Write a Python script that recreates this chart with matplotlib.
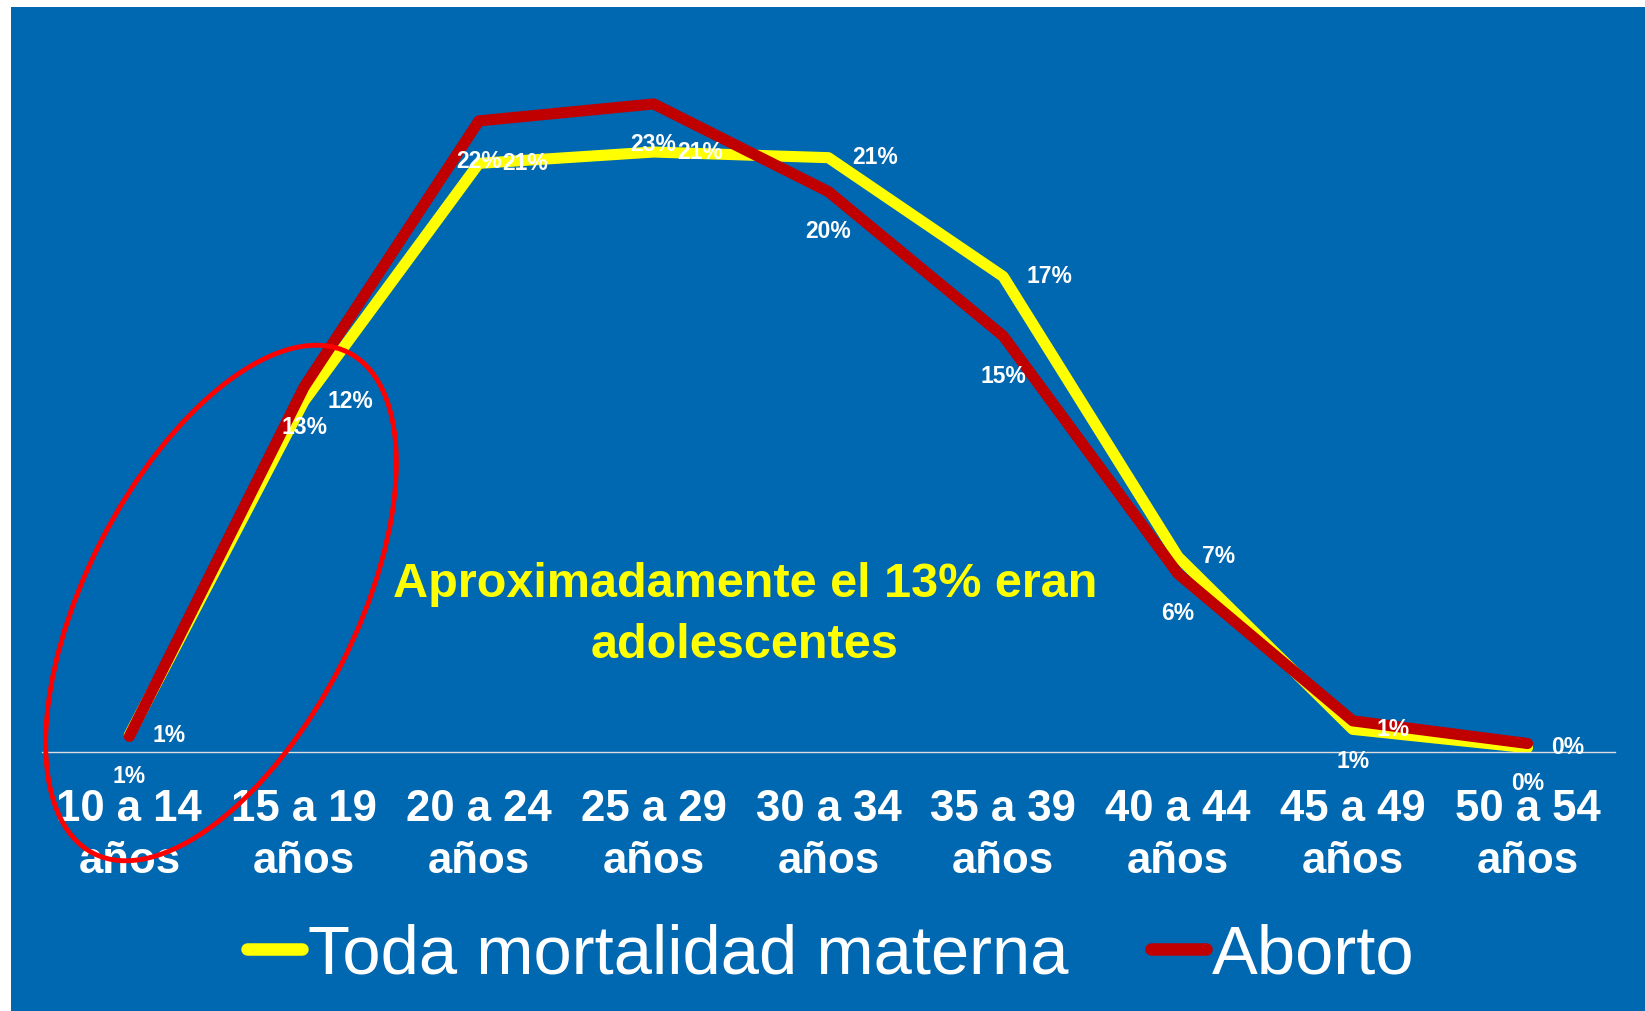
import matplotlib
matplotlib.use('Agg')
import matplotlib.pyplot as plt
from matplotlib.patches import Ellipse, Rectangle
from matplotlib.lines import Line2D

# Datos (porcentaje de muertes por grupo de edad)
grupos = ['10 a 14\naños', '15 a 19\naños', '20 a 24\naños', '25 a 29\naños', '30 a 34\naños',
          '35 a 39\naños', '40 a 44\naños', '45 a 49\naños', '50 a 54\naños']
toda_mortalidad = [0.6, 12.4, 20.8, 21.2, 21.0, 16.8, 6.9, 0.8, 0.15]
aborto = [0.55, 12.9, 22.3, 22.9, 19.8, 14.7, 6.3, 1.1, 0.3]
series = ['Toda mortalidad materna', 'Aborto']

AZUL = '#0067B1'
AMARILLO = '#FFFF00'
ROJO = '#C00000'

plt.rcParams['font.family'] = ['Liberation Sans', 'DejaVu Sans']

fig = plt.figure(figsize=(16.45, 10.11), dpi=100, facecolor='white')
# fondo azul (con el borde blanco arriba y a la izquierda)
fig.add_artist(Rectangle((11 / 1645, 0), 1, (1011 - 7) / 1011, transform=fig.transFigure,
                         facecolor=AZUL, edgecolor='none', zorder=-5))

ax = fig.add_axes([0.0255, 0.2562, 0.9562, 0.6998])
ax.set_facecolor('none')

x = list(range(len(grupos)))
ax.plot(x, toda_mortalidad, color=AMARILLO, lw=8, solid_capstyle='round', solid_joinstyle='round', zorder=3)
ax.plot(x, aborto, color=ROJO, lw=8, solid_capstyle='round', solid_joinstyle='round', zorder=4)

label_font = dict(color='white', fontsize=16.5, fontweight='bold', zorder=6)
for i, v in enumerate(toda_mortalidad):
    ax.annotate(f'{v:.0f}%', (i, v), xytext=(17, 0), textcoords='offset points',
                ha='left', va='center', **label_font)
for i, v in enumerate(aborto):
    ax.annotate(f'{v:.0f}%', (i, v), xytext=(0, -29), textcoords='offset points',
                ha='center', va='center', **label_font)

ax.set_xlim(-0.5, 8.5)
ax.set_ylim(0, 25)
ax.set_xticks(x)
ax.set_xticklabels(grupos, fontsize=31.5, fontweight='bold', color='white', linespacing=1.33)
ax.set_yticks([])
ax.tick_params(axis='x', length=0, pad=27)
for s in ['top', 'right', 'left']:
    ax.spines[s].set_visible(False)
ax.spines['bottom'].set_color('#DDDDDD')
ax.spines['bottom'].set_linewidth(1)

# texto destacado
fig.text(745 / 1645, 396 / 1011, 'Aproximadamente el 13% eran\nadolescentes', ha='center', va='center',
         fontsize=35, fontweight='bold', color=AMARILLO, linespacing=1.45)

# elipse que marca las adolescentes
fig.add_artist(Ellipse((2.21, 4.08), width=5.62, height=2.70, angle=63, transform=fig.dpi_scale_trans,
                       fill=False, edgecolor='#FF0000', lw=3.5, zorder=10))

handles = [Line2D([], [], color=AMARILLO, lw=9, solid_capstyle='round'),
           Line2D([], [], color=ROJO, lw=9, solid_capstyle='round')]
fig.legend(handles, series, loc='center', bbox_to_anchor=(0.505, 0.055), ncol=2, frameon=False,
           fontsize=49.5, handlelength=0.8, handletextpad=0.08, columnspacing=1.2, labelcolor='white')

fig.savefig('out.png', dpi=100, facecolor=fig.get_facecolor())
